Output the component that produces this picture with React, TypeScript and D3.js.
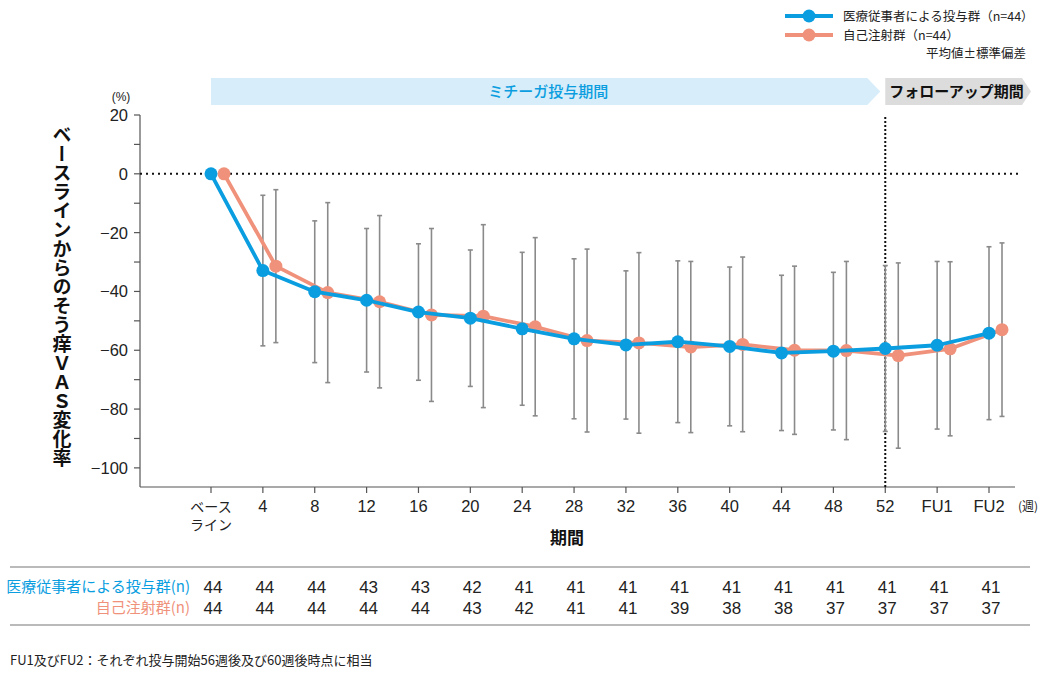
import React from "react";
import * as d3 from "d3";

const categories = ["BL", "4", "8", "12", "16", "20", "24", "28", "32", "36", "40", "44", "48", "52", "FU1", "FU2"];
const tickLabels = [["ベース", "ライン"], ["4"], ["8"], ["12"], ["16"], ["20"], ["24"], ["28"], ["32"], ["36"], ["40"], ["44"], ["48"], ["52"], ["FU1"], ["FU2"]];

const hcpMean = [0, -32.9, -40.1, -43.0, -47.0, -49.1, -52.7, -56.1, -58.2, -57.1, -58.7, -60.9, -60.3, -59.4, -58.3, -54.2];
const hcpSd = [0, 25.6, 24.1, 24.4, 23.2, 23.2, 26.0, 27.2, 25.2, 27.5, 27.0, 26.4, 26.8, 28.2, 28.5, 29.4];
const selfMean = [0, -31.4, -40.4, -43.5, -48.0, -48.4, -52.0, -56.7, -57.5, -58.9, -58.0, -60.0, -60.1, -61.8, -59.5, -53.0];
const selfSd = [0, 26.0, 30.6, 29.3, 29.4, 31.1, 30.3, 31.1, 30.7, 29.1, 29.7, 28.6, 30.3, 31.5, 29.6, 29.5];

const hcpN = [44, 44, 44, 43, 43, 42, 41, 41, 41, 41, 41, 41, 41, 41, 41, 41];
const selfN = [44, 44, 44, 44, 44, 43, 42, 41, 41, 39, 38, 38, 37, 37, 37, 37];

const yTicks = [20, 0, -20, -40, -60, -80, -100];
const yMinorTicks = [10, -10, -30, -50, -70, -90];

const BLUE = "#0a9ee0";
const ORANGE = "#f0927b";
const GREY = "#8a8a8a";
const FONT = "'Liberation Sans', 'Noto Sans CJK JP', sans-serif";
const JFONT = "'Noto Sans CJK JP', sans-serif";

export default function App() {
  const W = 1046, H = 673;
  const axisX = 140, plotBottom = 487, plotTop = 115, xAxisEnd = 1015;
  const x = d3.scalePoint<string>().domain(categories).range([211, 989]);
  const y = d3.scaleLinear().domain([-106.5, 20]).range([plotBottom, plotTop]);
  const offset = 13;

  const line = d3.line<number>().x((_, i) => x(categories[i])!).y((d) => y(d));
  const lineSelf = d3.line<number>().x((_, i) => x(categories[i])! + offset).y((d) => y(d));

  const errBars = (means: number[], sds: number[], dx: number, key: string) =>
    means.map((m, i) => {
      if (sds[i] === 0) return null;
      const cx = x(categories[i])! + dx;
      const y1 = y(m + sds[i]);
      const y2 = y(m - sds[i]);
      return (
        <g key={key + i} stroke={GREY} strokeWidth={1.6}>
          <line x1={cx} x2={cx} y1={y1} y2={y2} />
          <line x1={cx - 2.5} x2={cx + 2.5} y1={y1} y2={y1} />
          <line x1={cx - 2.5} x2={cx + 2.5} y1={y2} y2={y2} />
        </g>
      );
    });

  const x52 = x("52")!;
  const xBL = x("BL")!;
  const bannerTop = 78, bannerBot = 105, bannerMid = (bannerTop + bannerBot) / 2;

  return (
    <svg width={W} height={H} style={{ display: "block", position: "absolute", left: 0, top: 0 }} fontFamily={FONT}>
      <rect width={W} height={H} fill="#fff" />

      {/* Legend */}
      <g>
        <line x1={785} x2={833} y1={16} y2={16} stroke={BLUE} strokeWidth={4} />
        <circle cx={809} cy={16} r={6.5} fill={BLUE} />
        <text x={843} y={20.5} fontSize={12.5} fill="#222" fontFamily={JFONT}>医療従事者による投与群（n=44）</text>
        <line x1={785} x2={833} y1={35} y2={35} stroke={ORANGE} strokeWidth={4} />
        <circle cx={809} cy={35} r={6.5} fill={ORANGE} />
        <text x={843} y={39.5} fontSize={12.5} fill="#222" fontFamily={JFONT}>自己注射群（n=44）</text>
        <text x={1026} y={58} fontSize={12.5} fill="#222" textAnchor="end" fontFamily={JFONT}>平均値±標準偏差</text>
      </g>

      {/* Banners */}
      <path
        d={`M${xBL},${bannerTop} L${x52 - 18},${bannerTop} L${x52 - 5},${bannerMid} L${x52 - 18},${bannerBot} L${xBL},${bannerBot} Z`}
        fill="#d7edf9"
      />
      <text x={(xBL + x52) / 2} y={bannerMid + 5.5} textAnchor="middle" fontSize={15} fill={BLUE} fontFamily={JFONT} fontWeight={500}>
        ミチーガ投与期間
      </text>
      <path
        d={`M${x52},${bannerTop} L${1022},${bannerTop} L${1031},${bannerMid} L${1022},${bannerBot} L${x52},${bannerBot} Z`}
        fill="#dcdcdc"
      />
      <text x={x52 + 4} y={bannerMid + 5.5} fontSize={15} fill="#111" fontFamily={JFONT} fontWeight={700}>
        フォローアップ期間
      </text>

      {/* Y axis */}
      <text x={121} y={101} fontSize={12} fill="#222" textAnchor="middle">(%)</text>
      <line x1={axisX} x2={axisX} y1={plotTop} y2={plotBottom} stroke="#555" strokeWidth={1.2} />
      {[...yTicks, ...yMinorTicks].map((t) => (
        <line key={"yt" + t} x1={axisX - 6} x2={axisX} y1={y(t)} y2={y(t)} stroke="#555" strokeWidth={1.2} />
      ))}
      {yTicks.map((t) => (
        <text key={"yl" + t} x={axisX - 12} y={y(t) + 6} fontSize={16.5} fill="#222" textAnchor="end">
          {t < 0 ? "−" + Math.abs(t) : String(t)}
        </text>
      ))}
      <text
        x={62}
        y={296}
        fontSize={19}
        fontWeight={700}
        fill="#111"
        textAnchor="middle"
        fontFamily={JFONT}
        style={{ writingMode: "vertical-rl" as any }}
      >
        ベースラインからのそう痒ＶＡＳ変化率
      </text>

      {/* X axis */}
      <line x1={axisX} x2={xAxisEnd} y1={plotBottom} y2={plotBottom} stroke="#555" strokeWidth={1.2} />
      {categories.map((c, i) => (
        <g key={"xt" + c}>
          <line x1={x(c)!} x2={x(c)!} y1={plotBottom} y2={plotBottom + 6} stroke="#555" strokeWidth={1.2} />
          {tickLabels[i].map((s, j) => (
            <text key={j} x={x(c)!} y={plotBottom + 25 + j * 18} fontSize={i === 0 ? 14 : 16.5} fill="#222" textAnchor="middle" fontFamily={i === 0 ? JFONT : FONT}>
              {s}
            </text>
          ))}
        </g>
      ))}
      <text x={1028} y={511} fontSize={12} fill="#222" textAnchor="middle" fontFamily={JFONT}>(週)</text>
      <text x={567} y={544} fontSize={17} fontWeight={700} fill="#111" textAnchor="middle" fontFamily={JFONT}>期間</text>

      {/* Reference lines */}
      <line x1={axisX} x2={1022} y1={y(0)} y2={y(0)} stroke="#111" strokeWidth={2} strokeDasharray="2,4" />
      <line x1={x52} x2={x52} y1={plotTop + 2} y2={plotBottom} stroke="#111" strokeWidth={2} strokeDasharray="2,2" />

      {/* Error bars */}
      {errBars(hcpMean, hcpSd, 0, "h")}
      {errBars(selfMean, selfSd, offset, "s")}

      {/* Lines */}
      <path d={lineSelf(selfMean)!} fill="none" stroke={ORANGE} strokeWidth={3.8} strokeLinejoin="round" />
      {selfMean.map((m, i) => (
        <circle key={"sc" + i} cx={x(categories[i])! + offset} cy={y(m)} r={6.5} fill={ORANGE} />
      ))}
      <path d={line(hcpMean)!} fill="none" stroke={BLUE} strokeWidth={3.8} strokeLinejoin="round" />
      {hcpMean.map((m, i) => (
        <circle key={"hc" + i} cx={x(categories[i])!} cy={y(m)} r={6.5} fill={BLUE} />
      ))}

      {/* Table */}
      <line x1={10} x2={1030} y1={567} y2={567} stroke="#777" strokeWidth={1.2} />
      <line x1={10} x2={1030} y1={625} y2={625} stroke="#777" strokeWidth={1.2} />
      <text x={190} y={592} fontSize={15} fill={BLUE} textAnchor="end" fontFamily={JFONT}>医療従事者による投与群(n)</text>
      <text x={190} y={613} fontSize={15} fill={ORANGE} textAnchor="end" fontFamily={JFONT}>自己注射群(n)</text>
      {categories.map((c, i) => (
        <g key={"tn" + c}>
          <text x={x(c)! + 2} y={593} fontSize={17} fill="#222" textAnchor="middle">{hcpN[i]}</text>
          <text x={x(c)! + 2} y={614} fontSize={17} fill="#222" textAnchor="middle">{selfN[i]}</text>
        </g>
      ))}

      <text x={10} y={665} fontSize={13} fill="#222" fontFamily={JFONT}>FU1及びFU2：それぞれ投与開始56週後及び60週後時点に相当</text>
    </svg>
  );
}
